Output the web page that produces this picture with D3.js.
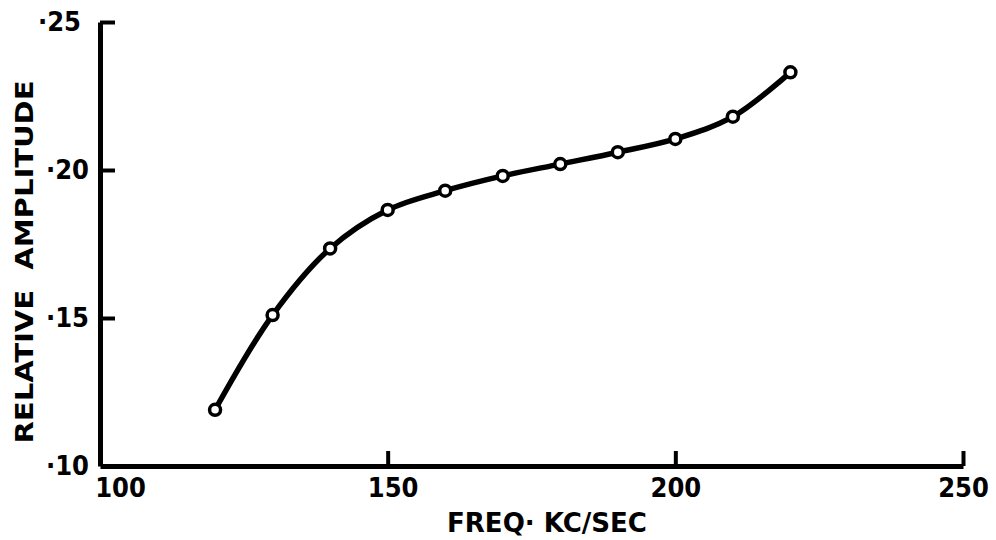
<!DOCTYPE html>
<html>
<head>
<meta charset="utf-8">
<script src="https://cdn.jsdelivr.net/npm/d3@7"></script>
<style>
  body { margin: 0; background: #fff; }
  text { font-family: "Liberation Sans Narrow", "DejaVu Sans Condensed", sans-serif; font-weight: bold; fill: #000; }
</style>
</head>
<body>
<div id="chart"></div>
<script>
    const width = 996;
    const height = 540;

    // frequency (kc/sec) and relative amplitude
    const freq = [120, 130, 140, 150, 160, 170, 180, 190, 200, 210, 220];
    const amplitude = [0.119, 0.151, 0.1735, 0.1865, 0.193, 0.198, 0.202, 0.206, 0.2105, 0.218, 0.233];

    const xTicks = [100, 150, 200, 250];
    const yTicks = [0.10, 0.15, 0.20, 0.25];
    const yTickLabels = ["·10", "·15", "·20", "·25"];

    const svg = d3.select("#chart")
        .append("svg")
        .attr("width", width)
        .attr("height", height);

    const x = d3.scaleLinear().domain([100, 250]).range([100, 963]);
    const y = d3.scaleLinear().domain([0.10, 0.25]).range([466, 22]);

    // x axis, ticks pointing up into the plot
    const xAxis = svg.append("g")
        .attr("transform", `translate(0,${y(0.10)})`)
        .call(d3.axisBottom(x)
            .tickValues(xTicks)
            .tickSizeInner(-15)
            .tickSizeOuter(0)
            .tickPadding(12)
            .tickFormat(d3.format("d")));
    xAxis.select(".domain").attr("stroke", "#000").attr("stroke-width", 5);
    xAxis.selectAll(".tick line").attr("stroke", "#000").attr("stroke-width", 4)
        .filter(d => d === 100).remove();
    xAxis.selectAll(".tick text").attr("font-size", 27).attr("font-family", null)
        .attr("dx", d => d === 100 ? 20 : (d === 150 ? 5 : 0));

    // y axis, ticks pointing right
    const yAxis = svg.append("g")
        .attr("transform", `translate(${x(100)},0)`)
        .call(d3.axisLeft(y)
            .tickValues(yTicks)
            .tickSizeInner(-15)
            .tickSizeOuter(0)
            .tickPadding(11)
            .tickFormat((d, i) => yTickLabels[i]));
    yAxis.select(".domain").attr("stroke", "#000").attr("stroke-width", 5);
    yAxis.selectAll(".tick line").attr("stroke", "#000").attr("stroke-width", 4)
        .filter(d => d === 0.10).remove();
    yAxis.selectAll(".tick text").attr("font-size", 27).attr("font-family", null)
        .attr("dx", d => d === 0.25 ? -8 : 0);

    const points = freq.map((f, i) => [f, amplitude[i]]);

    const line = d3.line()
        .x(d => x(d[0]))
        .y(d => y(d[1]))
        .curve(d3.curveCatmullRom);

    svg.append("path")
        .datum(points)
        .attr("d", line)
        .attr("fill", "none")
        .attr("stroke", "#000")
        .attr("stroke-width", 5.5)
        .attr("stroke-linecap", "round");

    svg.selectAll(".pt")
        .data(points)
        .enter().append("circle")
        .attr("class", "pt")
        .attr("cx", d => x(d[0]))
        .attr("cy", d => y(d[1]))
        .attr("r", 5.5)
        .attr("fill", "#fff")
        .attr("stroke", "#000")
        .attr("stroke-width", 3.5);

    // axis titles
    svg.append("text")
        .attr("x", 547)
        .attr("y", 532)
        .attr("text-anchor", "middle")
        .attr("font-size", 26)
        .attr("textLength", 200)
        .attr("lengthAdjust", "spacingAndGlyphs")
        .text("FREQ· KC/SEC");

    svg.append("text")
        .attr("transform", "translate(33,262) rotate(-90)")
        .attr("text-anchor", "middle")
        .attr("font-size", 25)
        .attr("textLength", 363)
        .attr("lengthAdjust", "spacingAndGlyphs")
        .style("white-space", "pre")
        .text("RELATIVE  AMPLITUDE");
</script>
</body>
</html>
